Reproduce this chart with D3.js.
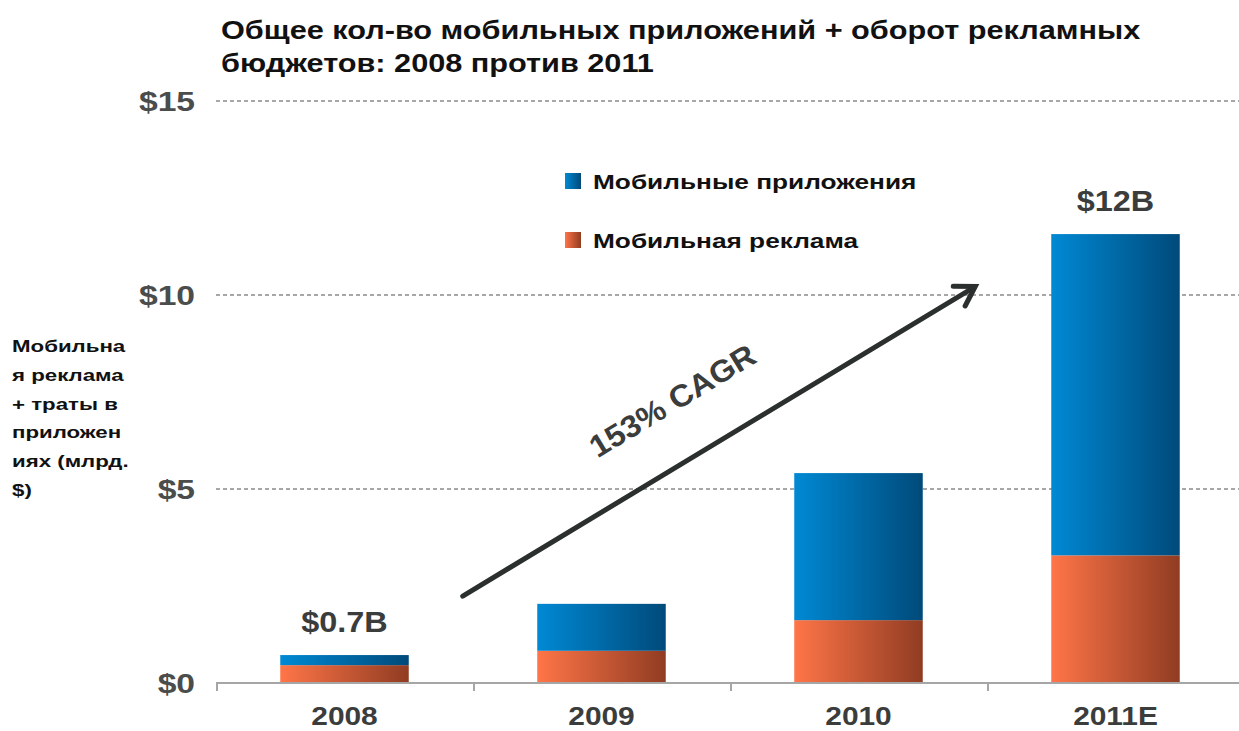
<!DOCTYPE html>
<html>
<head>
<meta charset="utf-8">
<script src="https://cdn.jsdelivr.net/npm/d3@7"></script>
<style>
  body { margin: 0; background: #fff; }
  svg { font-family: "Liberation Sans", Arial, sans-serif; }
</style>
</head>
<body>
<svg id="chart"></svg>
<script>
const years = ['2008', '2009', '2010', '2011E'];
const adSpend = [0.46, 0.83, 1.62, 3.29];
const appSpend = [0.26, 1.21, 3.79, 8.28];
const yTicks = [0, 5, 10, 15];
const totalLabels = [{ year: '2008', text: '$0.7B' }, { year: '2011E', text: '$12B' }];
const seriesNames = ['Мобильные приложения', 'Мобильная реклама'];
const titleLines = ['Общее кол-во мобильных приложений + оборот рекламных', 'бюджетов: 2008 против 2011'];
const yLabelLines = ['Мобильна', 'я реклама', '+ траты в', 'приложен', 'иях (млрд.', '$)'];

const width = 1239, height = 731;
const svg = d3.select('#chart').attr('width', width).attr('height', height);

const x = d3.scaleBand().domain(years).range([216, 1244]).paddingInner(0.5).paddingOuter(0.25);
const y = d3.scaleLinear().domain([0, 15]).range([683, 101]);

// text in the original is a bit wider than Liberation Sans, so stretch horizontally
const place = (px, py, sx) => `translate(${px},${py}) scale(${sx},1)`;

const defs = svg.append('defs');
function grad(id, c0, c1) {
    const g = defs.append('linearGradient').attr('id', id).attr('x1', 0).attr('x2', 1).attr('y1', 0).attr('y2', 0);
    g.append('stop').attr('offset', '0%').attr('stop-color', c0);
    g.append('stop').attr('offset', '100%').attr('stop-color', c1);
}
grad('blue-grad', '#0089d4', '#004a7a');
grad('orange-grad', '#ff7548', '#903c22');

// Title
svg.append('g').selectAll('text')
    .data(titleLines)
    .enter().append('text')
    .attr('transform', (d, i) => place(221, 39 + i * 33, 1.18))
    .attr('font-size', '26px')
    .attr('font-weight', 'bold')
    .attr('fill', '#111')
    .text(d => d);

// Gridlines
svg.append('g').selectAll('line')
    .data(yTicks.filter(d => d > 0))
    .enter().append('line')
    .attr('x1', 216).attr('x2', width)
    .attr('y1', d => y(d)).attr('y2', d => y(d))
    .attr('stroke', '#8a8a8a')
    .attr('stroke-width', 1.3)
    .attr('stroke-dasharray', '4,3');

// Y tick labels
svg.append('g').selectAll('text')
    .data(yTicks)
    .enter().append('text')
    .attr('transform', d => place(195, y(d) + 10, 1.2))
    .attr('text-anchor', 'end')
    .attr('font-size', '28px')
    .attr('font-weight', 'bold')
    .attr('fill', '#4a4d4c')
    .text(d => '$' + d);

// Y axis label
svg.append('g').selectAll('text')
    .data(yLabelLines)
    .enter().append('text')
    .attr('transform', (d, i) => place(12, 352 + i * 28.8, 1.31))
    .attr('font-size', '17px')
    .attr('font-weight', 'bold')
    .attr('fill', '#111')
    .text(d => d);

// Bars
const stacked = years.map((yr, i) => ({ year: yr, ad: adSpend[i], app: appSpend[i] }));
const barG = svg.append('g');
barG.selectAll('.ad')
    .data(stacked)
    .enter().append('rect')
    .attr('class', 'ad')
    .attr('x', d => x(d.year))
    .attr('width', x.bandwidth())
    .attr('y', d => y(d.ad))
    .attr('height', d => y(0) - y(d.ad))
    .attr('fill', 'url(#orange-grad)');
barG.selectAll('.app')
    .data(stacked)
    .enter().append('rect')
    .attr('class', 'app')
    .attr('x', d => x(d.year))
    .attr('width', x.bandwidth())
    .attr('y', d => y(d.ad + d.app))
    .attr('height', d => y(d.ad) - y(d.ad + d.app))
    .attr('fill', 'url(#blue-grad)');

// X axis
const xAxis = d3.axisBottom(x).tickSize(0).tickPadding(0);
const axG = svg.append('g').attr('transform', `translate(0,${y(0)})`).call(xAxis);
axG.select('.domain').remove();
axG.selectAll('.tick text')
    .attr('y', null).attr('dy', null)
    .attr('transform', place(0, 42, 1.15))
    .attr('font-size', '26px')
    .attr('font-weight', 'bold')
    .attr('font-family', '"Liberation Sans", Arial, sans-serif')
    .attr('fill', '#3a3d3c');
svg.append('line')
    .attr('x1', 216).attr('x2', width)
    .attr('y1', y(0)).attr('y2', y(0))
    .attr('stroke', '#a6a6a6').attr('stroke-width', 2);
const step = x.step();
svg.append('g').selectAll('line')
    .data(d3.range(0, years.length))
    .enter().append('line')
    .attr('x1', i => 217 + i * step).attr('x2', i => 217 + i * step)
    .attr('y1', y(0)).attr('y2', y(0) + 8)
    .attr('stroke', '#a6a6a6').attr('stroke-width', 2);

// Total labels
svg.append('g').selectAll('text')
    .data(totalLabels)
    .enter().append('text')
    .attr('transform', d => {
        const s = stacked.find(e => e.year === d.year);
        return place(x(d.year) + x.bandwidth() / 2, y(s.ad + s.app) - 23, 1.08);
    })
    .attr('text-anchor', 'middle')
    .attr('font-size', '30px')
    .attr('font-weight', 'bold')
    .attr('fill', '#3a3d3c')
    .text(d => d.text);

// Legend
const legend = svg.append('g');
const legendFills = ['url(#blue-grad)', 'url(#orange-grad)'];
seriesNames.forEach((name, i) => {
    const ly = 173 + i * 59;
    legend.append('rect')
        .attr('x', 565).attr('y', ly)
        .attr('width', 16).attr('height', 16)
        .attr('fill', legendFills[i]);
    legend.append('text')
        .attr('transform', place(593, ly + 16, 1.25))
        .attr('font-size', '21px')
        .attr('font-weight', 'bold')
        .attr('fill', '#111')
        .text(name);
});

// CAGR arrow
const ax0 = x('2008') + x.bandwidth() + 54, ay0 = y(2.24);
const ax1 = x('2011E') - 76, ay1 = y(10.22);
const ang = Math.atan2(ay1 - ay0, ax1 - ax0);
const arrowColor = '#2b302e';
svg.append('line')
    .attr('x1', ax0).attr('y1', ay0)
    .attr('x2', ax1 - 3 * Math.cos(ang)).attr('y2', ay1 - 3 * Math.sin(ang))
    .attr('stroke', arrowColor).attr('stroke-width', 5).attr('stroke-linecap', 'round');
const headLen = 22, headAng = 0.55;
const hp = [
    [ax1 - headLen * Math.cos(ang - headAng), ay1 - headLen * Math.sin(ang - headAng)],
    [ax1, ay1],
    [ax1 - headLen * Math.cos(ang + headAng), ay1 - headLen * Math.sin(ang + headAng)]
];
svg.append('path')
    .attr('d', d3.line()(hp))
    .attr('fill', 'none')
    .attr('stroke', arrowColor).attr('stroke-width', 5)
    .attr('stroke-linecap', 'round').attr('stroke-linejoin', 'miter');

const deg = ang * 180 / Math.PI;
svg.append('text')
    .attr('transform', `translate(678,410) rotate(${deg}) scale(1.05,1)`)
    .attr('text-anchor', 'middle')
    .attr('font-size', '31px')
    .attr('font-weight', 'bold')
    .attr('fill', '#3a3d3c')
    .text('153% CAGR');
</script>
</body>
</html>
